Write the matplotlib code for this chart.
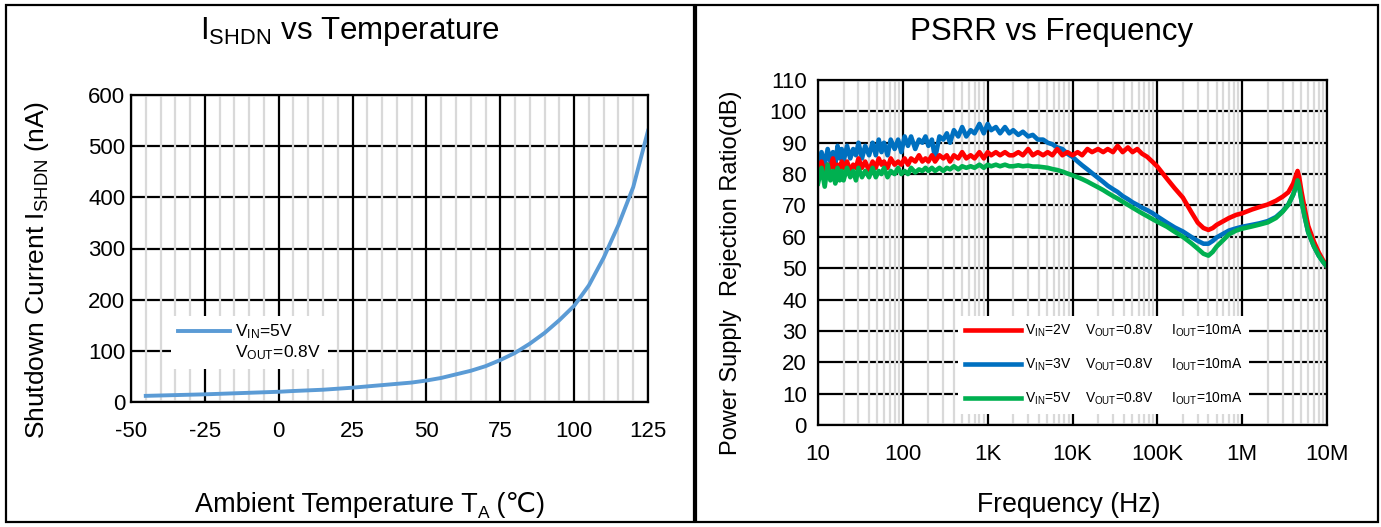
import matplotlib
matplotlib.use('Agg')
import matplotlib.pyplot as plt
import matplotlib.font_manager as fm
from matplotlib.lines import Line2D
from matplotlib.patches import Rectangle

# 字体：尽量用窄体
names = {f.name for f in fm.fontManager.ttflist}
base = 'Liberation Sans Narrow' if 'Liberation Sans Narrow' in names else 'Liberation Sans'
plt.rcParams['font.family'] = [base, 'DejaVu Sans']
plt.rcParams['mathtext.fontset'] = 'custom'
plt.rcParams['mathtext.rm'] = base
plt.rcParams['mathtext.it'] = base
plt.rcParams['mathtext.bf'] = base
plt.rcParams['axes.unicode_minus'] = False

# ---- 左图数据：I_SHDN vs 温度 ----
temp = [-45, -35, -25, -15, -5, 0, 5, 15, 25, 35, 45, 50, 55, 60, 65, 70,
        75, 80, 85, 90, 95, 100, 105, 110, 115, 120, 125]
ishdn = [12, 13.5, 15, 17, 19, 20, 21.5, 24, 28, 33, 38, 42, 47, 54, 61, 70,
         82, 96, 114, 135, 160, 188, 228, 282, 346, 420, 530]
temp_ticks = [-50, -25, 0, 25, 50, 75, 100, 125]
ishdn_ticks = [0, 100, 200, 300, 400, 500, 600]

# ---- 右图数据：PSRR vs 频率 ----
freq = [10, 11, 12, 13, 14, 15, 16, 17, 18, 19,
        20, 22, 24, 26, 28, 30, 33, 36, 40, 44,
        48, 52, 56, 60, 66, 72, 80, 88, 96, 105,
        115, 125, 140, 155, 170, 185, 200, 220, 240, 270,
        300, 330, 360, 400, 450, 500, 560, 630, 700, 800,
        900, 1000, 1100, 1250, 1400, 1600, 1800,
        2000, 2300, 2600, 3000, 3400, 3900, 4500, 5100, 5800, 6600, 7600, 8700,
        10e3, 11.5e3, 13e3, 15e3, 17e3, 20e3, 23e3, 26e3, 30e3, 34e3, 39e3, 45e3,
        51e3, 58e3, 66e3, 76e3, 87e3,
        100e3, 130e3, 160e3, 200e3, 250e3, 300e3, 350e3, 400e3, 450e3, 500e3,
        600e3, 700e3, 850e3,
        1e6, 1.3e6, 1.6e6, 2e6, 2.5e6, 3e6, 3.5e6, 4e6, 4.3e6, 4.5e6, 4.7e6, 5e6,
        5.5e6, 6e6, 7e6, 8e6, 9e6, 10e6]

psrr_2v = [81, 84, 80, 83, 82, 85, 81, 83, 80, 84,
           82, 84, 81, 83, 82, 85, 82, 84, 81, 84,
           82, 85, 83, 84, 82, 85, 83, 84, 83, 85,
           83, 85, 84, 86, 84, 85, 84, 86, 84, 86,
           85, 86, 84, 86, 85, 87, 85, 86, 85, 87,
           85, 87, 86, 87, 86, 87, 86,
           86, 87, 86, 88, 86, 87, 86, 87, 86, 88, 86, 87,
           86, 87, 86, 88, 87, 88, 87, 88, 87, 89, 87,
           88.5, 87, 88, 86.5, 85.5, 84,
           82.4, 78.5, 75.5, 72.5, 68, 64.5, 62.8, 62.2, 62.8, 63.8,
           65, 66, 67,
           67.5, 68.7, 69.5, 70.3, 71.5, 72.8, 74.2, 77, 79.5, 81, 79, 74.5,
           68.5, 63.5, 58.5, 55, 52.5, 50.5]

psrr_3v = [82, 87, 83, 88, 84, 87, 83, 89, 85, 88,
           84, 89, 85, 88, 86, 90, 85, 89, 86, 90,
           86, 91, 87, 90, 86, 91, 88, 91, 87, 92,
           89, 92, 88, 91, 90, 92, 89, 91, 85, 92,
           91, 93, 90, 94, 92, 95, 92, 94, 93, 96,
           93, 96, 94, 95, 93, 95, 93,
           94, 92.5, 93.5, 92, 92.5, 91, 91, 90, 89.5, 88.5, 88, 86.5,
           85.5, 84, 82.8, 81.5, 80.3, 78.8, 77.5, 76.3, 75.2, 74.3, 73,
           72, 71, 70.2, 69.3, 68.5, 67.6,
           66.5, 64.5, 63, 61.7, 60, 58.7, 57.8, 57.8, 58.7, 59.8,
           61, 62, 62.7,
           63.2, 63.8, 64.3, 65, 66.3, 68.2, 70.3, 73.5, 76, 78, 76, 71.5,
           66, 61.5, 57, 54, 52, 50.5]

psrr_5v = [77, 82, 76, 83, 78, 81, 77, 82, 78, 81,
           78, 82, 79, 81, 78, 82, 79, 81, 79, 82,
           79, 81, 80, 82, 79, 81, 80, 82, 80, 81,
           80, 82, 80.5, 81.5, 81, 82, 81, 82, 81, 82,
           81, 82, 81.5, 82.5, 81.5, 82.5, 82, 82.5, 82, 83,
           82, 83, 82.5, 83, 82.5, 83, 82.5,
           82.5, 82.8, 82.5, 82.7, 82.4, 82.4, 82.2, 82, 81.6, 81.3, 80.8, 80.2,
           79.6, 79, 78.4, 77.6, 76.8, 75.8, 74.9, 74, 73, 72.2, 71.2,
           70.2, 69.3, 68.4, 67.5, 66.6, 65.7,
           64.8, 63.2, 61.6, 60, 58, 56.2, 54.6, 54, 55.2, 56.9,
           59, 60.8, 62,
           62.6, 63.3, 63.9, 64.6, 66, 68, 70.2, 73.5, 76, 78, 76, 71.5,
           66, 61.5, 57, 54, 52, 50.5]

freq_ticks = [10, 100, 1e3, 1e4, 1e5, 1e6, 1e7]
freq_labels = ['10', '100', '1K', '10K', '100K', '1M', '10M']
psrr_ticks = list(range(0, 111, 10))

W, H = 1381, 527
fig = plt.figure(figsize=(W / 100, H / 100), dpi=100)
renderer = fig.canvas.get_renderer()

# 面板边框
fig.add_artist(Rectangle((6 / W, 1 - 522 / H), 688 / W, 517 / H, transform=fig.transFigure,
                         fill=False, ec='black', lw=1.6))
fig.add_artist(Rectangle((696 / W, 1 - 522 / H), 682 / W, 517 / H, transform=fig.transFigure,
                         fill=False, ec='black', lw=1.6))


def style_axes(ax, ypad):
    for s in ax.spines.values():
        s.set_linewidth(1.6)
        s.set_color('black')
        s.set_zorder(4)
    ax.tick_params(length=0, labelsize=16)
    ax.tick_params(axis='x', pad=14)
    ax.tick_params(axis='y', pad=ypad)


# ---------------- 左图 ----------------
ax1 = fig.add_axes([131 / W, 1 - 402 / H, 517 / W, 307 / H])
ax1.set_xlim(-50, 125)
ax1.set_ylim(0, 600)
for y in ishdn_ticks:
    ax1.axhline(y, color='black', lw=1.6, zorder=1)
for x in range(-50, 126, 5):
    if x % 25:
        ax1.axvline(x, color='#D9D9D9', lw=1.6, zorder=1.1)
for x in temp_ticks:
    ax1.axvline(x, color='black', lw=1.6, zorder=1.2)
ax1.plot(temp, ishdn, color='#5B9BD5', lw=2.8, zorder=3, label='V$_{\\mathrm{IN}}$=5V')
ax1.set_xticks(temp_ticks)
ax1.set_yticks(ishdn_ticks)
style_axes(ax1, 4)
h1, l1 = ax1.get_legend_handles_labels()
h1.append(Line2D([], [], color='none'))
l1.append('V$_{\\mathrm{OUT}}$=0.8V')
leg1 = ax1.legend(h1, l1, loc='lower left', bbox_to_anchor=(0.06, 0.08), fontsize=12.5,
                  handlelength=3.0, handletextpad=0.3, labelspacing=0.1, borderpad=0.4,
                  frameon=True, fancybox=False, framealpha=1, edgecolor='none')
leg1.set_zorder(5)

# ---------------- 右图 ----------------
ax2 = fig.add_axes([818 / W, 1 - 425 / H, 509 / W, 345 / H])
ax2.set_xscale('log')
ax2.set_xlim(10, 1e7)
ax2.set_ylim(0, 110)
for y in psrr_ticks:
    ax2.axhline(y, color='black', lw=1.6, zorder=1)
for dec in [10, 100, 1e3, 1e4, 1e5, 1e6]:
    for m in range(2, 10):
        ax2.axvline(dec * m, color='#D9D9D9', lw=1.6, zorder=1.1)
for x in freq_ticks:
    ax2.axvline(x, color='black', lw=1.6, zorder=1.2)
ax2.plot(freq, psrr_3v, color='#0070C0', lw=3.3, zorder=3)
ax2.plot(freq, psrr_2v, color='#FF0000', lw=3.3, zorder=3.1)
ax2.plot(freq, psrr_5v, color='#00B050', lw=3.3, zorder=3.2)
ax2.set_xticks(freq_ticks)
ax2.set_xticklabels(freq_labels)
ax2.minorticks_off()
ax2.set_yticks(psrr_ticks)
style_axes(ax2, 8)
leg_h = [Line2D([], [], color='#FF0000', lw=3.3),
         Line2D([], [], color='#0070C0', lw=3.3),
         Line2D([], [], color='#00B050', lw=3.3)]
leg_l = ['V$_{\\mathrm{IN}}$=2V    V$_{\\mathrm{OUT}}$=0.8V     I$_{\\mathrm{OUT}}$=10mA',
         'V$_{\\mathrm{IN}}$=3V    V$_{\\mathrm{OUT}}$=0.8V     I$_{\\mathrm{OUT}}$=10mA',
         'V$_{\\mathrm{IN}}$=5V    V$_{\\mathrm{OUT}}$=0.8V     I$_{\\mathrm{OUT}}$=10mA']
leg2 = ax2.legend(leg_h, leg_l, loc='lower left', bbox_to_anchor=(0.262, 0.012), fontsize=10,
                  handlelength=4, handletextpad=0.3, labelspacing=1.25, borderpad=0.5,
                  frameon=True, fancybox=False, framealpha=1, edgecolor='none')
leg2.set_zorder(5)

# 标题和坐标轴标签
fig.text(350 / W, 1 - 32 / H, 'I$_{\\mathrm{SHDN}}$ vs Temperature', fontsize=22.5,
         ha='center', va='center')
fig.text(1052 / W, 1 - 32 / H, 'PSRR vs Frequency', fontsize=22.5, ha='center', va='center')
fig.text(1069 / W, 1 - 505 / H, 'Frequency (Hz)', fontsize=19.2, ha='center', va='center')
fig.text(37 / W, 1 - 270 / H, 'Shutdown Current I$_{\\mathrm{SHDN}}$ (nA)', fontsize=19,
         ha='center', va='center', rotation=90)
fig.text(731 / W, 1 - 273 / H, 'Power Supply  Rejection Ratio(dB)', fontsize=17,
         ha='center', va='center', rotation=90)

# 横轴标签带下标和 ℃ 符号，分段拼接
xl_parts = [('Ambient Temperature T', 19.5, 0), ('A', 12.5, -6), (' (\u2103)', 19.5, 0)]
xl_center, xl_base = 370, 512
pieces = []
total = 0
for s, fs, dy in xl_parts:
    t = fig.text(0, 0, s, fontsize=fs, ha='left', va='baseline')
    w = t.get_window_extent(renderer).width
    pieces.append((t, w, dy))
    total += w
x = xl_center - total / 2
for t, w, dy in pieces:
    t.set_position((x / W, 1 - (xl_base - dy) / H))
    x += w

fig.savefig('out.png', dpi=100)
